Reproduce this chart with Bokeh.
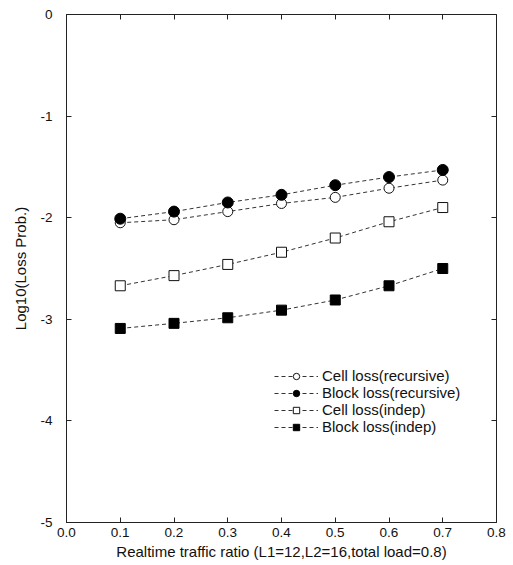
from bokeh.plotting import figure
from bokeh.models import FixedTicker, PrintfTickFormatter, LinearAxis, Legend, LegendItem, Range1d
from bokeh.embed import file_html
from bokeh.resources import INLINE

ratio = [0.1, 0.2, 0.3, 0.4, 0.5, 0.6, 0.7]
cell_rec = [-2.05, -2.02, -1.94, -1.86, -1.80, -1.71, -1.63]
block_rec = [-2.01, -1.94, -1.85, -1.775, -1.68, -1.60, -1.53]
cell_indep = [-2.67, -2.57, -2.46, -2.34, -2.20, -2.04, -1.90]
block_indep = [-3.09, -3.04, -2.985, -2.91, -2.81, -2.67, -2.50]
x_ticks = [0.0, 0.1, 0.2, 0.3, 0.4, 0.5, 0.6, 0.7, 0.8]
y_ticks = [0, -1, -2, -3, -4, -5]

FONT = "Liberation Sans"

p = figure(width=513, height=565, output_backend="svg", toolbar_location=None,
           x_range=Range1d(0, 0.8), y_range=Range1d(-5, 0),
           min_border_left=66, min_border_right=17, min_border_top=14, min_border_bottom=43)
p.grid.visible = False
p.outline_line_color = "#222222"
p.outline_line_width = 1
p.background_fill_color = "white"
p.border_fill_color = "white"

for ax in (p.xaxis[0], p.yaxis[0]):
    ax.major_tick_in = 5
    ax.major_tick_out = 0
    ax.minor_tick_in = 0
    ax.minor_tick_out = 0
    ax.axis_line_color = "#222222"
    ax.major_tick_line_color = "#222222"
    ax.major_label_text_font = FONT
    ax.major_label_text_font_size = "13.5px"
    ax.major_label_text_color = "#111111"
    ax.axis_label_text_font = FONT
    ax.axis_label_text_font_size = "15px"
    ax.axis_label_text_font_style = "normal"
    ax.axis_label_text_color = "#111111"

p.xaxis[0].ticker = FixedTicker(ticks=x_ticks)
p.xaxis[0].formatter = PrintfTickFormatter(format="%.1f")
p.xaxis[0].axis_label = "Realtime traffic ratio (L1=12,L2=16,total load=0.8)"
p.xaxis[0].major_label_standoff = 5
p.xaxis[0].axis_label_standoff = 3

p.yaxis[0].ticker = FixedTicker(ticks=y_ticks)
p.yaxis[0].formatter = PrintfTickFormatter(format="%d")
p.yaxis[0].axis_label = "Log10(Loss Prob.)"
p.yaxis[0].major_label_standoff = 14
p.yaxis[0].axis_label_standoff = 8

top = LinearAxis(ticker=FixedTicker(ticks=x_ticks), major_label_text_font_size="1px",
                 major_label_text_color=None, major_label_standoff=0,
                 major_tick_in=5, major_tick_out=0, minor_tick_in=0, minor_tick_out=0,
                 axis_line_color=None, major_tick_line_color="#222222")
right = LinearAxis(ticker=FixedTicker(ticks=y_ticks), major_label_text_font_size="1px",
                   major_label_text_color=None, major_label_standoff=0,
                   major_tick_in=5, major_tick_out=0, minor_tick_in=0, minor_tick_out=0,
                   axis_line_color=None, major_tick_line_color="#222222")
p.add_layout(top, "above")
p.add_layout(right, "right")

lc = "#333333"
l1 = p.line(ratio, cell_rec, line_color=lc, line_width=1, line_dash="4 3")
m1 = p.scatter(ratio, cell_rec, marker="circle", size=10, fill_color="white", line_color="#111111", line_width=1)
l2 = p.line(ratio, block_rec, line_color=lc, line_width=1, line_dash="4 3")
m2 = p.scatter(ratio, block_rec, marker="circle", size=11, fill_color="black", line_color="black")
l3 = p.line(ratio, cell_indep, line_color=lc, line_width=1, line_dash="4 3")
m3 = p.scatter(ratio, cell_indep, marker="square", size=10, fill_color="white", line_color="#111111", line_width=1)
l4 = p.line(ratio, block_indep, line_color=lc, line_width=1, line_dash="4 3")
m4 = p.scatter(ratio, block_indep, marker="square", size=10, fill_color="black", line_color="black")

legend = Legend(items=[
    LegendItem(label="Cell loss(recursive)", renderers=[l1, m1]),
    LegendItem(label="Block loss(recursive)", renderers=[l2, m2]),
    LegendItem(label="Cell loss(indep)", renderers=[l3, m3]),
    LegendItem(label="Block loss(indep)", renderers=[l4, m4]),
], location=(208, 87))
legend.border_line_color = None
legend.background_fill_alpha = 0
legend.label_text_font = FONT
legend.label_text_font_size = "15px"
legend.label_text_color = "#111111"
legend.glyph_width = 44
legend.glyph_height = 16
legend.label_height = 16
legend.label_standoff = 4
legend.spacing = 0
legend.padding = 2
legend.margin = 0
p.add_layout(legend, "center")

open("out.html", "w").write(file_html(p, INLINE))
